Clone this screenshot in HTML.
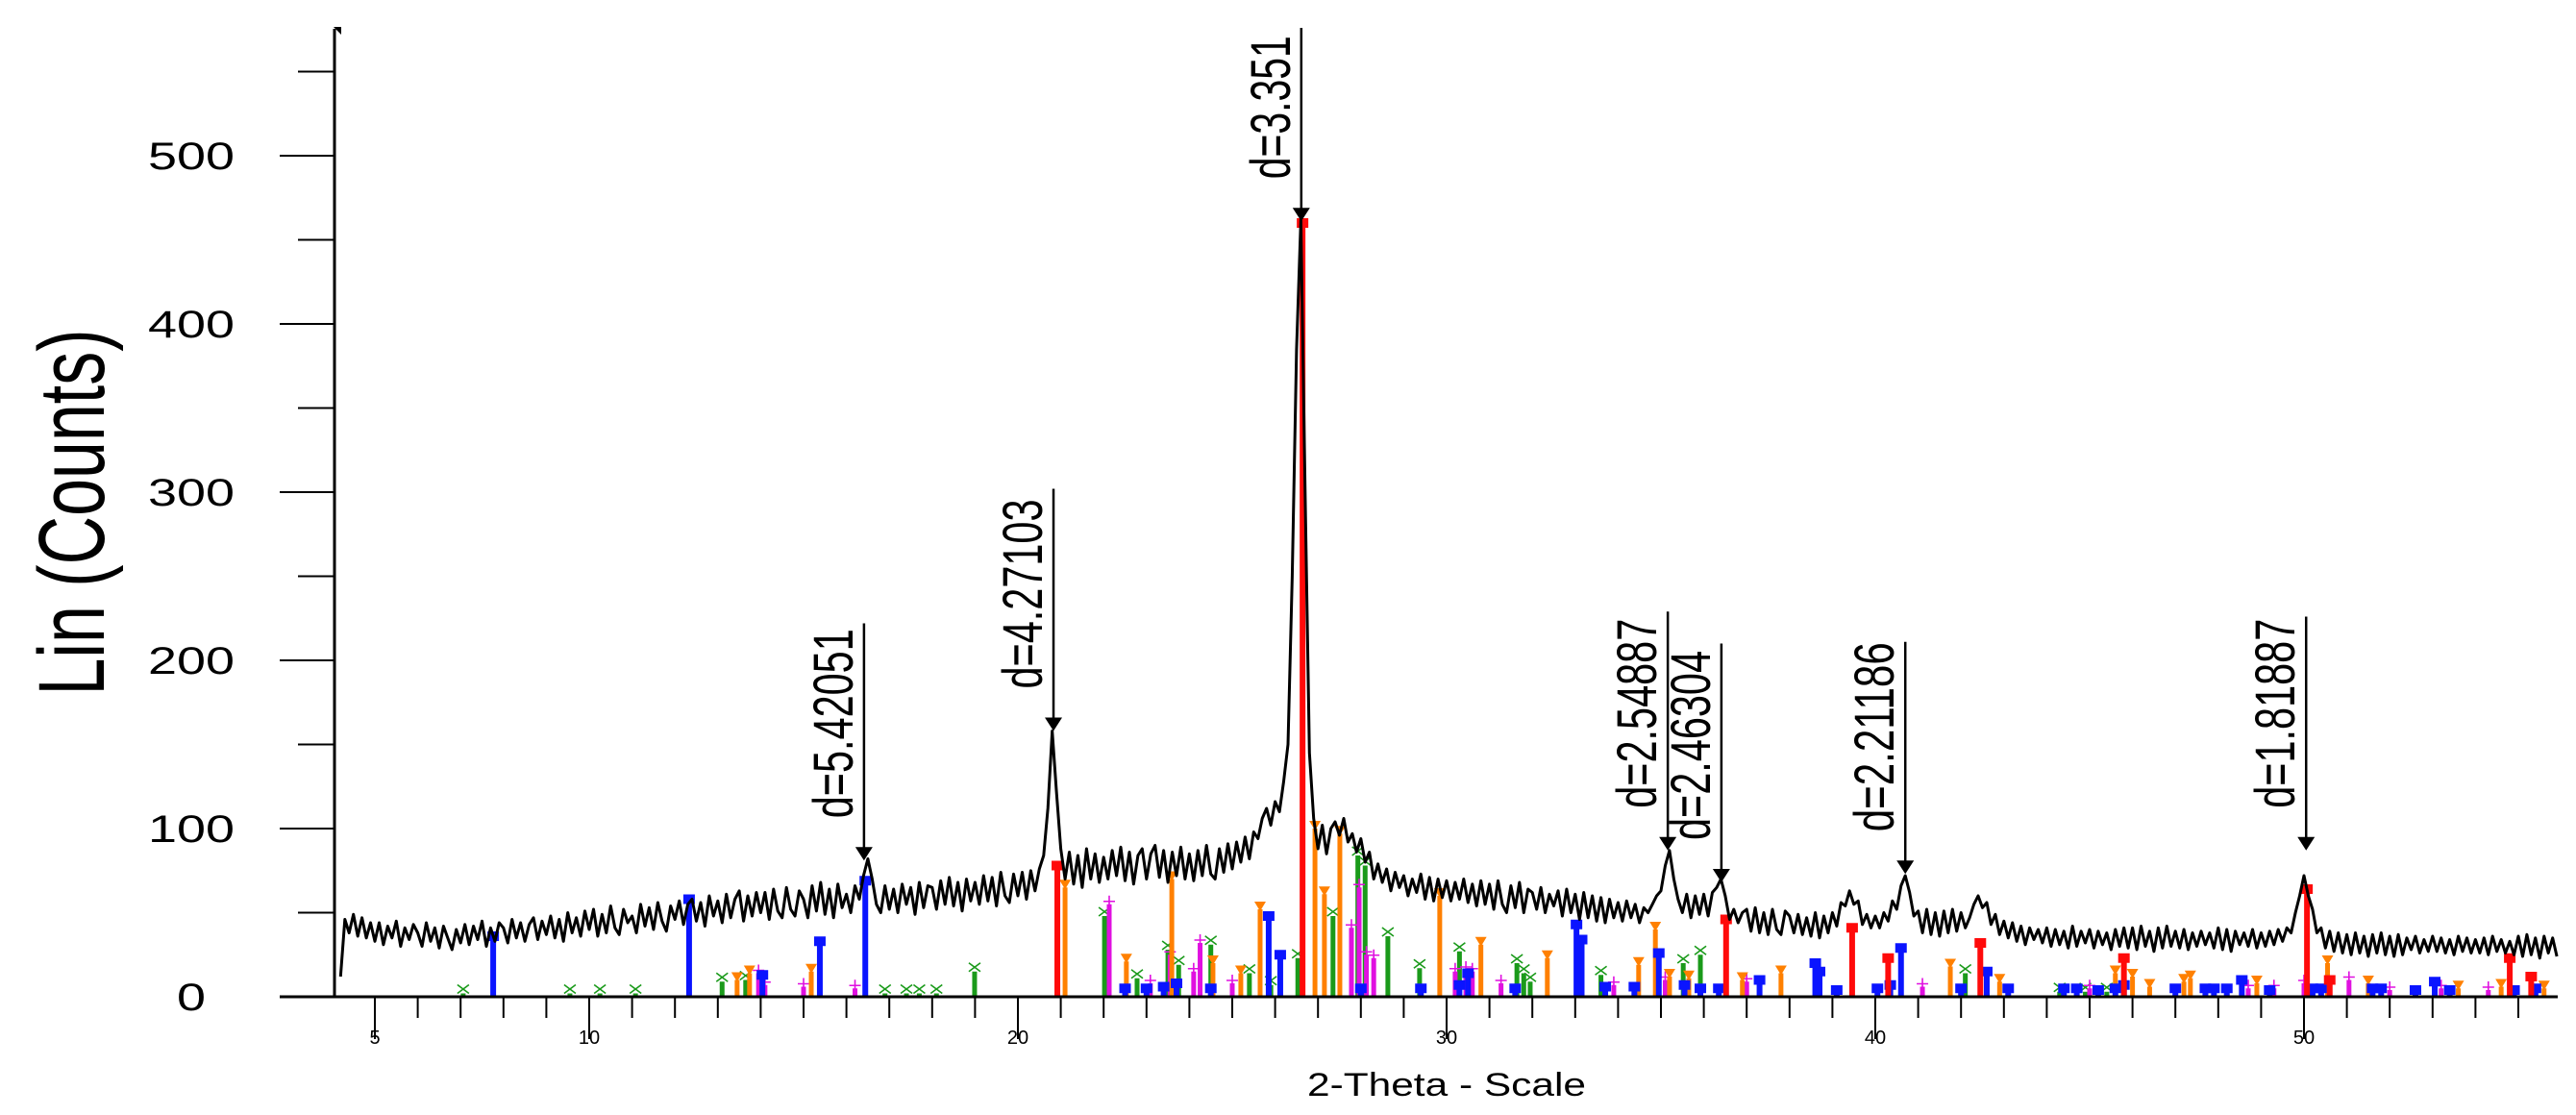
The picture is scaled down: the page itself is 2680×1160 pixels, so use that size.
<!DOCTYPE html>
<html><head><meta charset="utf-8"><style>
html,body{margin:0;padding:0;background:#fff;}
svg{display:block;}
text{font-family:"Liberation Sans",Arial,sans-serif;}
</style></head><body>
<svg id="chart" width="2680" height="1160" viewBox="0 0 2680 1160" xmlns="http://www.w3.org/2000/svg">
<g id="sticks"></g>
<g id="trace"></g>
<g id="axes"></g>
<g id="annot"></g>
<text x="0" y="0" transform="translate(108,533) rotate(-90)" font-size="97" text-anchor="middle" textLength="381" lengthAdjust="spacingAndGlyphs">Lin (Counts)</text>
<text x="1505" y="1140" font-size="34" text-anchor="middle" textLength="290" lengthAdjust="spacingAndGlyphs">2-Theta - Scale</text>
</svg>
<script>
const traceStart = 4.2;
const traceStep = 0.1;
const traceCounts = [
12,46,38,49,36,47,35,44,
33,44,31,42,35,45,30,41,34,43,
38,30,44,33,41,29,42,35,28,40,
32,43,31,42,34,45,30,41,33,44,
41,32,46,35,44,33,43,47,34,45,
37,48,35,46,33,50,38,47,36,51,
40,52,36,49,38,54,41,37,52,44,
48,38,55,42,53,40,56,45,39,54,
46,57,43,55,58,45,56,42,60,48,
57,44,61,47,58,63,45,60,48,62,
50,62,46,64,51,47,65,52,48,63,
58,47,66,51,68,49,64,47,67,53,
61,50,66,58,72,82,70,55,50,66,
52,64,50,67,55,65,49,68,53,66,
65,52,69,55,71,54,68,51,70,57,
68,55,72,57,71,54,74,60,56,73,
60,74,58,75,63,76,84,112,158,122,
88,70,86,67,84,65,88,70,85,68,
83,70,87,72,89,69,86,67,84,88,
70,85,90,71,87,68,86,72,89,70,
85,69,87,72,90,73,70,88,74,91,
76,92,80,95,82,98,94,106,112,102,
116,110,128,150,250,385,462,300,145,106,
88,102,85,100,104,96,106,92,97,86,
94,80,86,70,79,68,76,63,74,65,
72,60,70,62,73,58,71,57,70,59,
69,57,68,58,70,56,67,54,69,55,
67,52,69,55,50,66,53,68,50,64,
62,52,65,50,61,54,63,48,64,50,
61,46,62,47,60,45,59,44,58,47,
56,45,57,47,55,44,53,50,55,60,
63,78,87,70,58,50,61,47,60,49,
61,48,62,65,70,60,46,52,44,50,
52,39,53,38,50,37,52,40,37,51,
48,38,49,37,47,36,50,35,48,38,
50,42,56,54,63,55,57,43,49,41,
48,41,50,45,57,52,66,72,62,48,
51,38,52,37,50,36,51,38,52,39,
50,41,47,55,60,53,56,43,49,37,
45,35,44,33,42,31,41,34,40,32,
41,30,40,31,39,29,42,30,39,32,
40,29,39,31,38,28,40,30,41,29,
41,28,42,30,39,27,41,29,42,30,
39,29,40,28,38,30,39,31,38,29,
41,28,40,27,39,31,38,30,40,29,
38,30,39,31,40,33,41,38,50,60,
72,60,52,38,41,29,39,27,38,26,
37,25,38,26,36,24,37,26,38,25,
36,24,37,25,35,28,36,26,34,27,
36,27,35,26,34,25,36,27,35,26,
34,26,35,25,36,27,34,26,33,25,
36,24,37,25,35,23,36,26,35,24];

const redPos = [20.92,26.64,36.52,39.46,40.3,42.45,45.8,50.07,50.6,54.8,55.3];
const redH = [78,460,46,41,23,32,23,64,10,23,12];
const orangePos = [13.45,13.74,15.18,21.1,22.53,23.59,24.55,25.2,25.65,26.93,27.15,27.51,29.84,30.8,32.35,34.48,34.87,35.2,35.65,36.9,37.8,41.75,42.9,45.6,46.0,46.4,47.2,47.35,48.9,50.55,51.5,53.6,54.6,55.6];
const orangeH = [10,14,15,65,21,70,20,14,52,100,61,97,60,31,23,19,40,12,11,10,14,18,9,14,12,6,9,11,8,20,8,5,6,5];
const greenPos = [7.06,9.55,10.25,11.08,13.1,13.65,16.9,17.4,17.7,18.1,18.99,22.02,22.78,23.5,23.75,24.5,25.4,25.9,26.53,27.35,27.93,28.1,28.63,29.37,30.3,31.64,31.8,31.95,33.6,35.52,35.92,42.1,44.3,44.9,45.4];
const greenH = [2,2,2,2,9,10,2,2,2,2,15,48,11,28,19,31,14,7,23,48,84,78,36,17,27,20,14,9,13,20,25,14,3,3,3];
const magentaPos = [13.95,14.1,15.0,16.2,22.13,23.09,23.55,24.1,24.25,25.0,27.78,27.96,28.13,28.3,30.2,30.45,30.6,31.27,33.9,35.1,37.0,41.1,45.0,48.7,49.3,50.0,51.05,52.0,53.2,54.3];
const magentaH = [14,7,6,5,55,8,25,15,32,8,41,65,25,23,15,16,15,8,7,10,9,6,5,5,5,8,10,4,5,4];
const bluePos = [7.76,12.33,14.04,15.38,16.44,22.5,23.0,23.4,23.7,24.5,25.85,26.12,28.0,29.4,30.3,30.5,31.6,33.03,33.15,33.7,34.38,34.95,35.55,35.92,36.35,37.3,38.6,38.7,39.1,40.05,40.6,40.35,42.6,42.0,43.1,44.4,44.7,45.2,45.6,45.8,47.0,47.7,47.9,48.2,48.55,49.2,50.2,50.4,51.6,51.8,52.6,53.05,53.4,54.9,55.4];
const blueH = [36,58,13,33,69,5,5,6,8,5,48,25,5,5,7,14,5,43,34,6,6,26,7,5,5,10,20,15,4,5,29,7,15,5,5,5,5,4,5,7,5,5,5,5,10,4,5,5,5,5,4,9,4,4,5];

const peakPos = [16.41,20.83,26.61,35.16,36.41,40.7,50.05];
const peakTip = [81,158,461,87,68,73,87];
const peakTop = [222,302,576,229,210,211,226];
const peakLabels = ["d=5.42051","d=4.27103","d=3.351","d=2.54887","d=2.46304","d=2.21186","d=1.81887"];

const yTickLabels = [0,100,200,300,400,500];
const yMinorTicks = [50,150,250,350,450,550];
const xTickLabels = [5,10,20,30,40,50];

const NS = "http://www.w3.org/2000/svg";
function X(t){ return 1505 + (t - 30) * 44.6; }
function Y(v){ return 1037 - v * 1.75; }
function mk(tag, attrs, parent){
  const e = document.createElementNS(NS, tag);
  for (const k in attrs) e.setAttribute(k, attrs[k]);
  parent.appendChild(e);
  return e;
}

const sticks = document.getElementById('sticks');
function drawPhase(pos, hs, color, marker, w, name){
  for (let i = 0; i < pos.length; i++){
    const x = X(pos[i]), yt = Y(hs[i]);
    const g = mk('g', {}, sticks);
    
    
    mk('rect', {x: x - w/2, y: yt, width: w, height: 1037 - yt, fill: color}, g);
    if (marker === 'square') mk('rect', {x: x - 6, y: yt - 5, width: 12, height: 10, fill: color}, g);
    else if (marker === 'tri') mk('polygon', {points: (x-6)+','+(yt-8)+' '+(x+6)+','+(yt-8)+' '+x+','+(yt+2), fill: color}, g);
    else if (marker === 'x') mk('path', {d: 'M'+(x-6)+','+(yt-9)+'L'+(x+6)+','+(yt)+'M'+(x+6)+','+(yt-9)+'L'+(x-6)+','+(yt), stroke: color, 'stroke-width': 1.6, fill: 'none'}, g);
    else if (marker === 'plus') mk('path', {d: 'M'+(x-6)+','+(yt-3)+'L'+(x+6)+','+(yt-3)+'M'+x+','+(yt-9)+'L'+x+','+(yt+3), stroke: color, 'stroke-width': 1.6, fill: 'none'}, g);
  }
}
drawPhase(greenPos, greenH, '#1a9a1a', 'x', 5, 'green-phase');
drawPhase(magentaPos, magentaH, '#e010e0', 'plus', 5, 'magenta-phase');
drawPhase(orangePos, orangeH, '#ff8000', 'tri', 5, 'orange-phase');
drawPhase(bluePos, blueH, '#0a14ff', 'square', 6, 'blue-phase');
drawPhase(redPos, redH, '#ff0a0a', 'square', 6, 'red-phase');

const traceG = document.getElementById('trace');
let d = '';
for (let i = 0; i < traceCounts.length; i++){
  const t = traceStart + i * traceStep;
  d += (i ? 'L' : 'M') + X(t).toFixed(1) + ',' + Y(traceCounts[i]).toFixed(1);
}
const tp = mk('path', {d: d, stroke: '#000', 'stroke-width': 3, fill: 'none', 'stroke-linejoin': 'round'}, traceG);



const axes = document.getElementById('axes');
const ya = mk('line', {x1: 348, y1: 30, x2: 348, y2: 1038, stroke: '#000', 'stroke-width': 3}, axes);


mk('polygon', {points: '347,28 355,28 355,36', fill: '#000'}, axes);
const xa = mk('line', {x1: 291, y1: 1037, x2: 2661, y2: 1037, stroke: '#000', 'stroke-width': 3}, axes);


for (const v of yTickLabels){
  mk('line', {x1: 291, y1: Y(v), x2: 348, y2: Y(v), stroke: '#000', 'stroke-width': 2}, axes);
  const tx = mk('text', {x: 199, y: Y(v) + 14, 'font-size': 40, 'text-anchor': 'middle', textLength: String(v).length * 30, lengthAdjust: 'spacingAndGlyphs'}, axes);
  tx.textContent = v;
  
  
}
for (const v of yMinorTicks){
  mk('line', {x1: 310, y1: Y(v), x2: 348, y2: Y(v), stroke: '#000', 'stroke-width': 2}, axes);
}
for (let t = 5; t <= 55; t++){
  const long = xTickLabels.indexOf(t) >= 0;
  mk('line', {x1: X(t), y1: 1037, x2: X(t), y2: long ? 1081 : 1059, stroke: '#000', 'stroke-width': 2}, axes);
}
for (const t of xTickLabels){
  const tx = mk('text', {x: X(t), y: 1086, 'font-size': 20, 'text-anchor': 'middle'}, axes);
  tx.textContent = t;
  
  
}

const annot = document.getElementById('annot');
for (let i = 0; i < peakPos.length; i++){
  const x = X(peakPos[i]), tip = Y(peakTip[i]), top = Y(peakTop[i]);
  const g = mk('g', {}, annot);
  
  
  mk('line', {x1: x, y1: top, x2: x, y2: tip - 10, stroke: '#000', 'stroke-width': 2.5}, g);
  mk('polygon', {points: (x-9)+','+(tip-14)+' '+(x+9)+','+(tip-14)+' '+x+','+tip, fill: '#000'}, g);
  const lbl = peakLabels[i];
  const ty = tip - 44;
  const tx = mk('text', {x: 0, y: 0, transform: 'translate(' + (x - 12) + ',' + ty + ') rotate(-90)', 'font-size': 58, textLength: 24 * lbl.length - 19, lengthAdjust: 'spacingAndGlyphs'}, g);
  tx.textContent = lbl;
  
  
}
</script>
</body></html>
